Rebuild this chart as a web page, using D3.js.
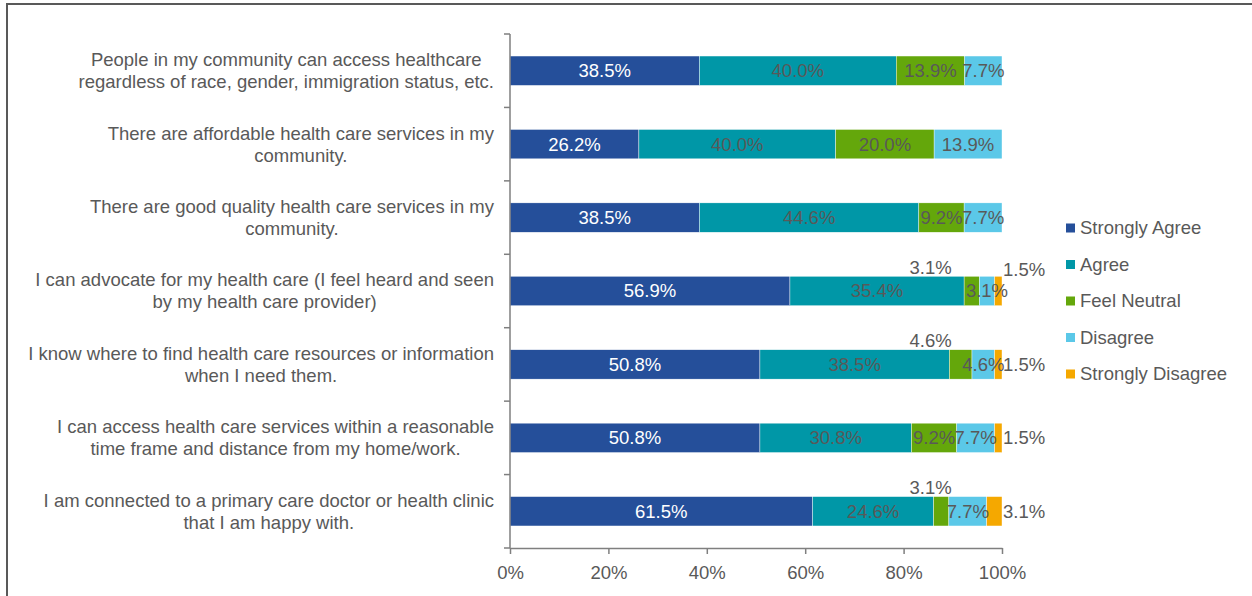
<!DOCTYPE html>
<html><head><meta charset="utf-8">
<script src="https://cdn.jsdelivr.net/npm/d3@7"></script>
<style>body{margin:0;background:#fff}svg{display:block;font-family:"Liberation Sans",Arial,sans-serif}</style>
</head><body><svg id="c" width="1252" height="596"></svg>
<script>
const categories = [
  ["People in my community can access healthcare","regardless of race, gender, immigration status, etc."],
  ["There are affordable health care services in my","community."],
  ["There are good quality health care services in my","community."],
  ["I can advocate for my health care (I feel heard and seen","by my health care provider)"],
  ["I know where to find health care resources or information","when I need them."],
  ["I can access health care services within a reasonable","time frame and distance from my home/work."],
  ["I am connected to a primary care doctor or health clinic","that I am happy with."]
];
const seriesNames = ["Strongly Agree","Agree","Feel Neutral","Disagree","Strongly Disagree"];
const stronglyAgree = [38.5,26.2,38.5,56.9,50.8,50.8,61.5];
const agree         = [40.0,40.0,44.6,35.4,38.5,30.8,24.6];
const feelNeutral   = [13.9,20.0,9.2,3.1,4.6,9.2,3.1];
const disagree      = [7.7,13.9,7.7,3.1,4.6,7.7,7.7];
const stronglyDisagree = [0,0,0,1.5,1.5,1.5,3.1];
const xTicks = [0,20,40,60,80,100];

const colors = ["#254F9A","#0097A7","#64A70B","#5BC8E8","#F5A800"];
const labelColors = ["#ffffff","#595959","#595959","#595959","#595959"];
const textCol = "#595959";
const FS = 18.5;
const seriesVals = [stronglyAgree,agree,feelNeutral,disagree,stronglyDisagree];

const svg = d3.select("#c");
// frame
svg.append("rect").attr("x",7).attr("y",4).attr("width",1260).attr("height",620)
  .attr("fill","none").attr("stroke","#595959").attr("stroke-width",2);

const x = d3.scaleLinear().domain([0,100]).range([510,1002]);
const y = d3.scaleBand().domain(d3.range(categories.length)).range([34,548]).paddingInner(0.6).paddingOuter(0.3);
const yb = d3.scaleBand().domain(d3.range(categories.length)).range([34,548]);

// bars
const rows = categories.map((c,i)=>{
  let acc=0;
  return seriesVals.map((s,k)=>{const v=s[i]; const seg={i,k,v,x0:acc,x1:acc+v}; acc+=v; return seg;});
});
const g = svg.append("g");
rows.forEach(r=>r.forEach(seg=>{
  if(seg.v<=0) return;
  g.append("rect").attr("x",x(seg.x0)).attr("y",y(seg.i))
   .attr("width",x(Math.min(seg.x1,100))-x(seg.x0)).attr("height",y.bandwidth())
   .attr("fill",colors[seg.k]).attr("stroke","#ffffff").attr("stroke-width",0.4);
}));

// axes
const yAxis = svg.append("g").attr("transform","translate(510,0)");
yAxis.append("line").attr("x1",0).attr("x2",0).attr("y1",34).attr("y2",548).attr("stroke","#7f7f7f").attr("stroke-width",1.5);
d3.range(categories.length+1).forEach(j=>{
  const yy = j<categories.length? yb(j): 548;
  yAxis.append("line").attr("x1",-6).attr("x2",0).attr("y1",yy).attr("y2",yy).attr("stroke","#7f7f7f").attr("stroke-width",1.5);
});
const xAxis = svg.append("g").attr("transform","translate(0,548)")
  .call(d3.axisBottom(x).tickValues(xTicks).tickFormat(d=>d+"%").tickSize(6).tickSizeOuter(0));
xAxis.select(".domain").attr("stroke","#7f7f7f").attr("stroke-width",1.5);
xAxis.selectAll(".tick line").attr("stroke","#7f7f7f").attr("stroke-width",1.5);
xAxis.selectAll(".tick text").attr("fill",textCol).attr("font-size",FS).attr("y",25).attr("dy","0.35em")
  .attr("font-family","Liberation Sans, Arial, sans-serif");

// category labels (lines centered within a block right-aligned at 494)
categories.forEach((lines,i)=>{
  const cy = y(i)+y.bandwidth()/2;
  const t = svg.append("g");
  const texts = lines.map((ln,j)=>t.append("text").text(ln).attr("font-size",FS).attr("fill",textCol)
      .attr("y",cy + (j-0.5)*22).attr("dy","0.35em").attr("text-anchor","middle"));
  const maxW = d3.max(texts,tx=>tx.node().getComputedTextLength());
  texts.forEach(tx=>tx.attr("x",494-maxW/2));
});

// data labels
const fmt = v=>v.toFixed(1)+"%";
rows.forEach(r=>r.forEach(seg=>{
  if(seg.v<=0) return;
  const cy = y(seg.i)+y.bandwidth()/2;
  const cx = (x(seg.x0)+x(Math.min(seg.x1,100)))/2;
  let tx=cx, ty=cy, anchor="middle";
  if(seg.k===4){ // strongly disagree: right of bar
    tx = x(100)+1; anchor="start";
    if(r[3].v<4) ty = cy-21;
  } else if(seg.k===2 && seg.v<5){ // neutral small: above bar, nudged left
    ty = y(seg.i)-9;
    tx = Math.min(cx, x(85.5));
  }
  svg.append("text").attr("x",tx).attr("y",ty).attr("dy","0.35em").attr("text-anchor",anchor)
    .attr("font-size",FS).attr("fill",(seg.k===2&&seg.v<5)||seg.k===4?textCol:labelColors[seg.k]).text(fmt(seg.v));
}));

// legend
const lg = svg.append("g");
seriesNames.forEach((n,k)=>{
  const ly = 228 + k*36.5;
  lg.append("rect").attr("x",1066).attr("y",ly-4.5).attr("width",9).attr("height",9).attr("fill",colors[k]);
  lg.append("text").attr("x",1080).attr("y",ly).attr("dy","0.35em").attr("font-size",FS).attr("fill",textCol).text(n);
});
</script></body></html>
